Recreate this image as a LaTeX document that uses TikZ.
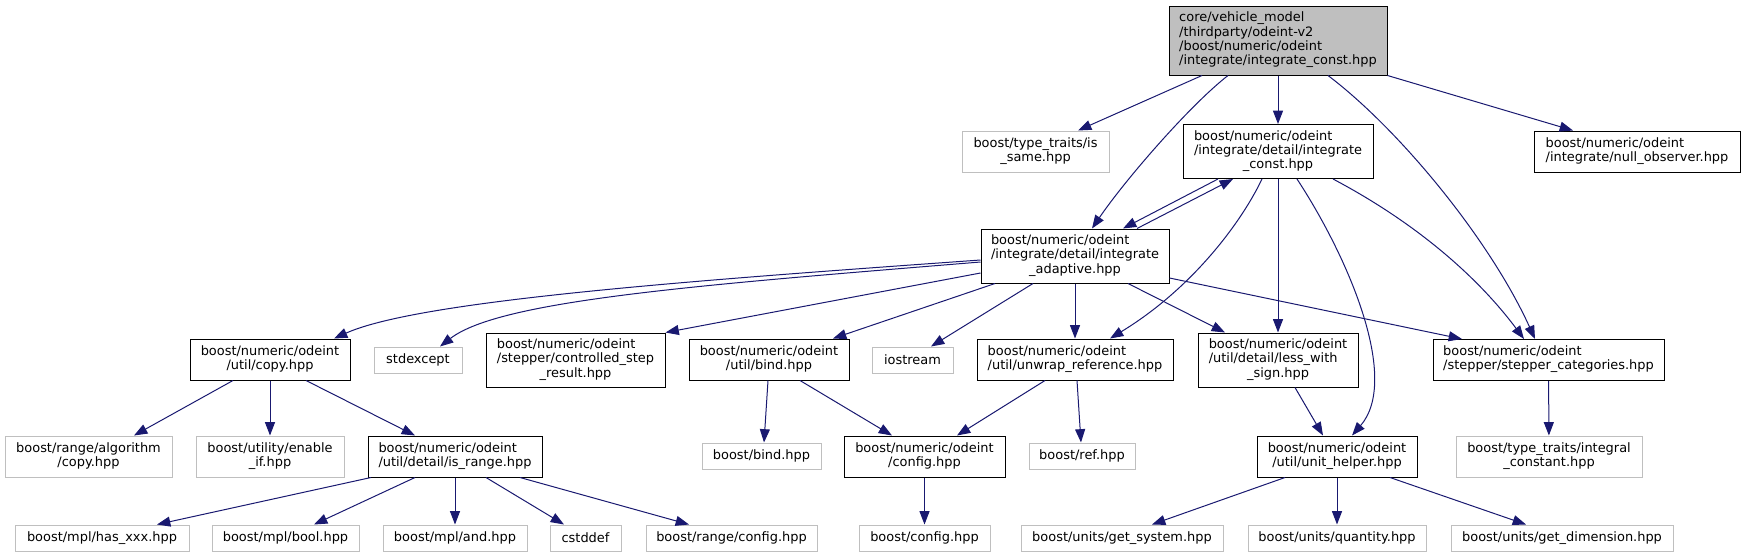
\documentclass[tikz,border=0pt]{standalone}
\usepackage{fontspec}
\setmainfont{DejaVu Sans}
\usetikzlibrary{arrows.meta}
\definecolor{edgeblue}{HTML}{191970}
\definecolor{greyline}{HTML}{BFBFBF}
\newcommand{\fname}[2]{\begin{tabular}{@{}l@{}}#1\\\multicolumn{1}{@{}c@{}}{#2}\end{tabular}}
\begin{document}
\begin{tikzpicture}[x=0.75pt,y=-0.75pt,font=\fontsize{9.7}{10.7}\selectfont,
 incl/.style={draw=black,line width=0.75pt,inner sep=0pt,minimum height=30.75pt},
 sys/.style={incl,draw=greyline},
 tall/.style={minimum height=40.5pt},
 flat/.style={minimum height=19.5pt},
 dep/.style={edgeblue,line width=0.75pt,-{Triangle[length=10pt,width=7.5pt]}}]
 \useasboundingbox (0,0) rectangle (1745,557);
 % top rows
 \node[incl,fill=greyline,minimum width=163.5pt,minimum height=51.75pt] (root) at (1278,40.5) {\fname{core/vehicle\_model\\/thirdparty/odeint-v2\\/boost/numeric/odeint}{/integrate/integrate\_const.hpp}};
 \node[sys,minimum width=110.25pt] (issame) at (1035.5,151.5) {\fname{boost/type\_traits/is}{\_same.hpp}};
 \node[incl,tall,minimum width=142.5pt] (iconst) at (1278,151.5) {\fname{boost/numeric/odeint\\/integrate/detail/integrate}{\_const.hpp}};
 \node[incl,minimum width=154.5pt] (nullobs) at (1637,151.5) {\fname{boost/numeric/odeint}{/integrate/null\_observer.hpp}};
 \node[incl,tall,minimum width=141pt] (adaptive) at (1075,256) {\fname{boost/numeric/odeint\\/integrate/detail/integrate}{\_adaptive.hpp}};
 % middle row
 \node[incl,minimum width=120pt] (copy) at (270,359.5) {\fname{boost/numeric/odeint}{/util/copy.hpp}};
 \node[sys,flat,minimum width=66pt] (stdexcept) at (418,360) {stdexcept};
 \node[incl,tall,minimum width=134.25pt] (controlled) at (575.5,360) {\fname{boost/numeric/odeint\\/stepper/controlled\_step}{\_result.hpp}};
 \node[incl,minimum width=120pt] (ubind) at (769,359.5) {\fname{boost/numeric/odeint}{/util/bind.hpp}};
 \node[sys,flat,minimum width=60.75pt] (iostream) at (912.5,360) {iostream};
 \node[incl,minimum width=147pt] (unwrap) at (1075,359.5) {\fname{boost/numeric/odeint}{/util/unwrap\_reference.hpp}};
 \node[incl,tall,minimum width=120pt] (less) at (1278,360) {\fname{boost/numeric/odeint\\/util/detail/less\_with}{\_sign.hpp}};
 \node[incl,minimum width=173.25pt] (stepcat) at (1548.5,360) {\fname{boost/numeric/odeint}{/stepper/stepper\_categories.hpp}};
 % lower row
 \node[sys,minimum width=125.25pt] (ralg) at (88.5,456.5) {\fname{boost/range/algorithm}{/copy.hpp}};
 \node[sys,minimum width=111pt] (enable) at (270,456.5) {\fname{boost/utility/enable}{\_if.hpp}};
 \node[incl,minimum width=130.5pt] (isrange) at (455,456.5) {\fname{boost/numeric/odeint}{/util/detail/is\_range.hpp}};
 \node[sys,flat,minimum width=89.25pt] (bbind) at (761.5,456) {boost/bind.hpp};
 \node[incl,minimum width=120.75pt] (oconfig) at (924.5,456.5) {\fname{boost/numeric/odeint}{/config.hpp}};
 \node[sys,flat,minimum width=79.5pt] (ref) at (1082,456) {boost/ref.hpp};
 \node[incl,minimum width=120pt] (unit) at (1337,456.5) {\fname{boost/numeric/odeint}{/util/unit\_helper.hpp}};
 \node[sys,minimum width=139.5pt] (integral) at (1549,456.5) {\fname{boost/type\_traits/integral}{\_constant.hpp}};
 % bottom row
 \node[sys,flat,minimum width=130.5pt] (hasxxx) at (102,538) {boost/mpl/has\_xxx.hpp};
 \node[sys,flat,minimum width=110.25pt] (mplbool) at (285.5,538) {boost/mpl/bool.hpp};
 \node[sys,flat,minimum width=108pt] (mpland) at (455,538) {boost/mpl/and.hpp};
 \node[sys,flat,minimum width=53.25pt] (cstddef) at (585.5,538) {cstddef};
 \node[sys,flat,minimum width=128.25pt] (rconfig) at (731.5,538) {boost/range/config.hpp};
 \node[sys,flat,minimum width=98.25pt] (bconfig) at (924.5,538) {boost/config.hpp};
 \node[sys,flat,minimum width=151.5pt] (getsystem) at (1122,538) {boost/units/get\_system.hpp};
 \node[sys,flat,minimum width=133.5pt] (quantity) at (1337,538) {boost/units/quantity.hpp};
 \node[sys,flat,minimum width=166.5pt] (getdim) at (1562,538) {boost/units/get\_dimension.hpp};
 % edges from the root file
 \draw[dep] ([shift={(-76,0)}]root.south) -- ([shift={(42.5,0)}]issame.north);
 \draw[dep] ([shift={(-50,0)}]root.south) .. controls (1190,105) and (1125,180) .. ([shift={(17,0)}]adaptive.north);
 \draw[dep] (root) -- (iconst);
 \draw[dep] ([shift={(50,0)}]root.south) .. controls (1400,130) and (1490,240) .. ([shift={(-13.5,0)}]stepcat.north);
 \draw[dep] (root.south east) -- ([shift={(-64,0)}]nullobs.north);
 % detail/integrate_const
 \draw[dep] ([shift={(-60,0)}]iconst.south) -- ([shift={(48,0)}]adaptive.north);
 \draw[dep] ([shift={(-16,0)}]iconst.south) .. controls (1240,225) and (1190,290) .. ([shift={(35,0)}]unwrap.north);
 \draw[dep] (iconst) -- (less);
 \draw[dep] ([shift={(19,0)}]iconst.south) .. controls (1350,260) and (1400,380) .. ([shift={(15,0)}]unit.north);
 \draw[dep] ([shift={(55,0)}]iconst.south) .. controls (1420,225) and (1480,280) .. ([shift={(-24.5,0)}]stepcat.north);
 % detail/integrate_adaptive
 \draw[dep] ([shift={(62,0)}]adaptive.north) -- ([shift={(-45,0)}]iconst.south);
 \draw[dep] ([shift={(0,4)}]adaptive.west) .. controls (700,280) and (420,300) .. ([shift={(64,0)}]copy.north);
 \draw[dep] ([shift={(0,6)}]adaptive.west) .. controls (700,285) and (500,300) .. ([shift={(22,0)}]stdexcept.north);
 \draw[dep] ([shift={(0,17)}]adaptive.west) -- (controlled.north east);
 \draw[dep] ([shift={(-80,0)}]adaptive.south) -- ([shift={(64,0)}]ubind.north);
 \draw[dep] ([shift={(-42,0)}]adaptive.south) -- ([shift={(18.5,0)}]iostream.north);
 \draw[dep] (adaptive) -- (unwrap);
 \draw[dep] ([shift={(53,0)}]adaptive.south) -- ([shift={(-53,0)}]less.north);
 \draw[dep] ([shift={(0,22)}]adaptive.east) -- ([shift={(-86.5,0)}]stepcat.north);
 % lower levels
 \draw[dep] ([shift={(-37,0)}]copy.south) -- ([shift={(45.5,0)}]ralg.north);
 \draw[dep] (copy) -- (enable);
 \draw[dep] ([shift={(36,0)}]copy.south) -- ([shift={(-40,0)}]isrange.north);
 \draw[dep] ([shift={(-84,0)}]isrange.south) -- ([shift={(55,0)}]hasxxx.north);
 \draw[dep] ([shift={(-40,0)}]isrange.south) -- ([shift={(28.5,0)}]mplbool.north);
 \draw[dep] (isrange) -- (mpland);
 \draw[dep] ([shift={(31,0)}]isrange.south) -- ([shift={(-21.5,0)}]cstddef.north);
 \draw[dep] ([shift={(65,0)}]isrange.south) -- ([shift={(-42.5,0)}]rconfig.north);
 \draw[dep] ([shift={(-1,0)}]ubind.south) -- ([shift={(2.5,0)}]bbind.north);
 \draw[dep] ([shift={(31,0)}]ubind.south) -- ([shift={(-32.5,0)}]oconfig.north);
 \draw[dep] ([shift={(-30,0)}]unwrap.south) -- ([shift={(32.5,0)}]oconfig.north);
 \draw[dep] ([shift={(2,0)}]unwrap.south) -- ([shift={(-1,0)}]ref.north);
 \draw[dep] (oconfig) -- (bconfig);
 \draw[dep] ([shift={(17,0)}]less.south) -- ([shift={(-14,0)}]unit.north);
 \draw[dep] (stepcat) -- (integral);
 \draw[dep] ([shift={(-52,0)}]unit.south) -- ([shift={(30,0)}]getsystem.north);
 \draw[dep] (unit) -- (quantity);
 \draw[dep] ([shift={(53,0)}]unit.south) -- ([shift={(-36,0)}]getdim.north);
\end{tikzpicture}
\end{document}
